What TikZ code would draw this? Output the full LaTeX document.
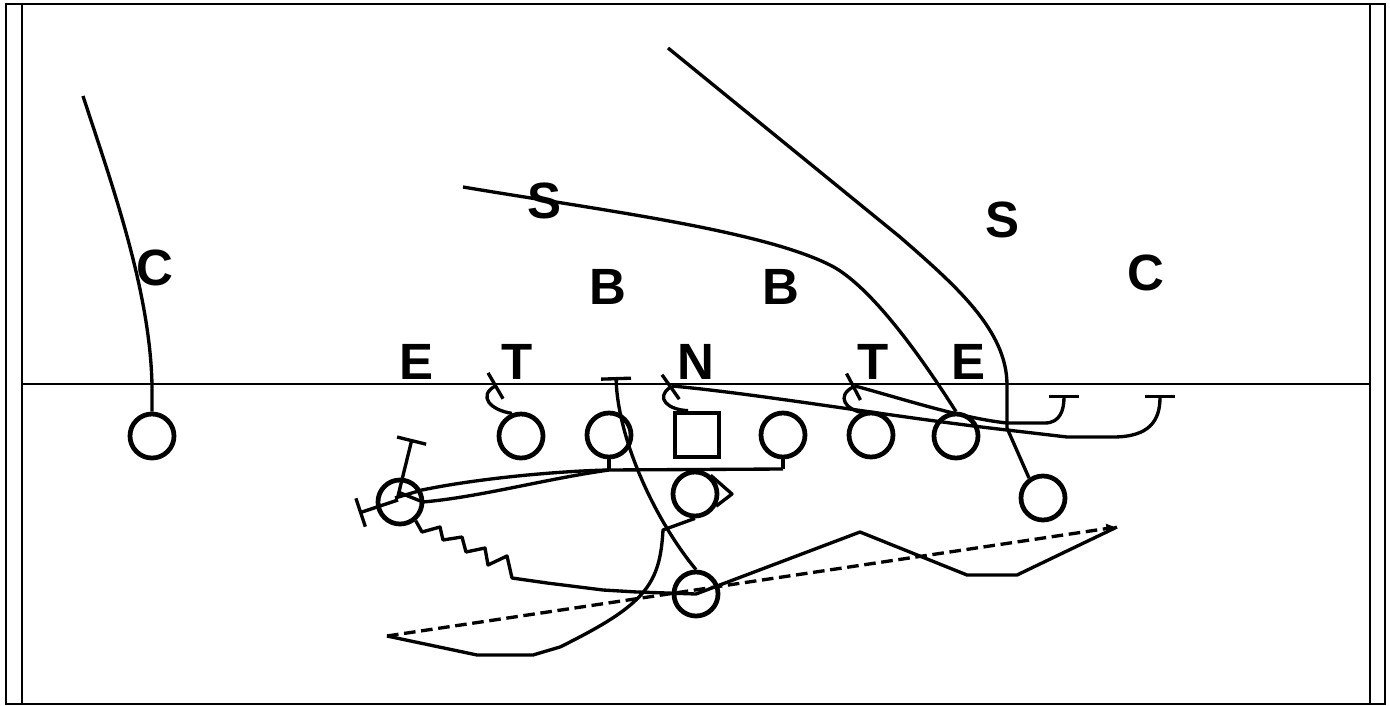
\documentclass[tikz,border=0pt]{standalone}
\usepackage{fontspec}
\setsansfont{Liberation Sans}
\usepackage{tikz}
\usetikzlibrary{arrows.meta, positioning, calc}

\begin{document}
\begin{tikzpicture}[
  x=0.01cm, y=-0.01cm,
  route/.style={line width=0.95pt, line join=round},
  block/.style={route, -{Bar[width=8.5pt, line width=0.95pt]}},
  pass/.style={line width=0.95pt, dash pattern=on 3.3pt off 1.6pt, -{Latex[length=3pt, width=3pt]}},
  man_circle/.style={draw, circle, minimum size=0.44cm, inner sep=0pt, line width=1.35pt},
  man_square/.style={draw, rectangle, minimum size=0.44cm, inner sep=0pt, line width=1.35pt},
  def_label/.style={font=\sffamily\bfseries\fontsize{14.5}{14.5}\selectfont, inner sep=0pt}
]
  \useasboundingbox (0,0) rectangle (1390,706);

  % FIELD: frame and line of scrimmage
  \draw[line width=0.75pt] (6,4) rectangle (1385,704);
  \draw[line width=0.75pt] (22,4) -- (22,704);
  \draw[line width=0.75pt] (1370,4) -- (1370,704);
  \draw[line width=0.4pt] (22,384) -- (1370,384);

  % DEFENSE: labels
  \node (dc1) [def_label] at (155,268) {C};
  \node (ds1) [def_label] at (545,201) {S};
  \node (db1) [def_label] at (608,287) {B};
  \node (db2) [def_label] at (781,287) {B};
  \node (ds2) [def_label] at (1002,220) {S};
  \node (dc2) [def_label] at (1146,273) {C};
  \node (de1) [def_label] at (417,362) {E};
  \node (dt1) [def_label] at (517,362) {T};
  \node (dn)  [def_label] at (696,362) {N};
  \node (dt2) [def_label] at (873,362) {T};
  \node (de2) [def_label] at (968,362) {E};

  % OFFENSE: players
  \node (lcb) [man_circle] at (152,436) {};
  \node (lt)  [man_circle] at (521,436) {};
  \node (lg)  [man_circle] at (609,435) {};
  \node (ctr) [man_square] at (697,435) {};
  \node (rg)  [man_circle] at (783,435) {};
  \node (rt)  [man_circle] at (871,435) {};
  \node (te)  [man_circle] at (956,436) {};
  \node (wb)  [man_circle] at (1043,498) {};
  \node (qb)  [man_circle] at (695,494) {};
  \node (lb)  [man_circle] at (400,502) {};
  \node (rb)  [man_circle] at (696,594) {};

  % Routes and blocks
  \coordinate (lgfoot) at (609,470);
  \coordinate (rgfoot) at (783,469);
  \coordinate (nhk) at (672,386);
  \coordinate (thk) at (855,386);
  \coordinate (pitch) at (387,636);
  \coordinate (flat) at (1117,527);

  % split end
  \draw[route] (lcb.north) -- (152,385) .. controls (150,290) and (112,185) .. (83,96);
  % wing back
  \draw[route] (wb.125) -- (1007,428) -- (1007,385) .. controls (1007,330) and (955,285) .. (900,237) -- (668,48);
  % long curve through the S
  \draw[route] (463,187) .. controls (600,210) and (760,230) .. (830,265) .. controls (870,285) and (920,355) .. (te.north);

  % line blocks
  \draw[block] (lt.112) .. controls (490,410) and (478,396) .. (497,385);
  \draw[block] (ctr.110) .. controls (668,410) and (655,398) .. (nhk);
  \draw[block] (rt.112) .. controls (846,410) and (836,396) .. (thk);
  \draw[block] (nhk) .. controls (760,394) and (900,418) .. (1007,430) -- (1067,437) -- (1113,437) .. controls (1150,437) and (1160,420) .. (1160,395);
  \draw[block] (thk) .. controls (900,398) and (960,418) .. (1007,423) -- (1045,423) .. controls (1060,423) and (1064,410) .. (1064,395);
  \draw[block] (rb.north) .. controls (655,520) and (618,440) .. (616,377);

  % guards' pull
  \draw[route] (lg.south) -- (lgfoot);
  \draw[route] (rg.south) -- (rgfoot);
  \draw[route] ($(lb)+(-5,-4)$) -- (422,490) .. controls (480,478) and (560,471) .. (lgfoot) -- (rgfoot);
  \draw[route] ($(lb)+(-2,-10)$) -- (423,502) .. controls (480,497) and (545,479) .. (lgfoot);

  % left back
  \draw[block] ($(lb)+(-2,-6)$) -- (412,439);
  \draw[block] ($(lb)+(-2,-2)$) -- (359,513);
  \draw[route] (lb.-50) -- (422,532) -- (440,527) -- (443,540) -- (462,537) -- (466,552) -- (485,548) -- (488,565) -- (507,556) -- (512,578) -- (547,583) -- (603,590) -- (637,592) -- (rb.center) -- (860,532) -- (967,575) -- (1017,575) -- (flat);

  % quarterback
  \draw[route] (qb.50) -- (732,494) -- (qb.-30);
  \draw[route] (qb.south) -- (663,530) .. controls (660,585) and (645,605) .. (560,647) -- (533,655) -- (477,655) -- (pitch);
  \draw[pass] (pitch) -- (flat);

\end{tikzpicture}
\end{document}
